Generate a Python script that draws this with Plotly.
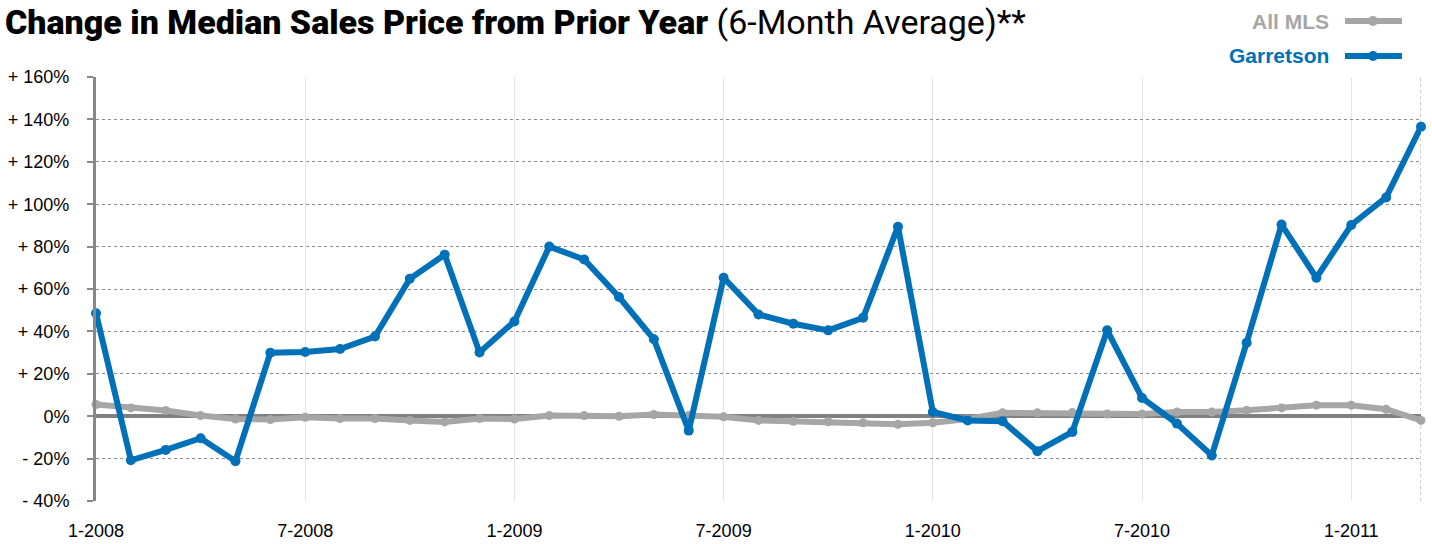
import plotly.graph_objects as go

months = [
    "1-2008", "2-2008", "3-2008", "4-2008", "5-2008", "6-2008", "7-2008", "8-2008", "9-2008", "10-2008", "11-2008", "12-2008",
    "1-2009", "2-2009", "3-2009", "4-2009", "5-2009", "6-2009", "7-2009", "8-2009", "9-2009", "10-2009", "11-2009", "12-2009",
    "1-2010", "2-2010", "3-2010", "4-2010", "5-2010", "6-2010", "7-2010", "8-2010", "9-2010", "10-2010", "11-2010", "12-2010",
    "1-2011", "2-2011", "3-2011",
]

all_mls = [
    5.5, 3.9, 2.7, 0.3, -1.3, -1.6, -0.5, -1.1, -1.1, -2.0, -2.7, -1.1,
    -1.3, 0.3, 0.3, 0.0, 0.8, 0.3, -0.3, -2.0, -2.4, -2.6, -3.1, -3.8,
    -3.1, -1.3, 1.6, 1.6, 1.7, 1.0, 1.0, 2.0, 2.0, 2.8, 3.9, 5.2,
    5.2, 3.3, -2.0,
]

garretson = [
    48.6, -20.8, -15.9, -10.4, -21.2, 29.9, 30.3, 31.7, 37.6, 64.8, 76.2, 30.1,
    44.7, 80.0, 73.9, 56.2, 36.3, -6.8, 65.3, 48.0, 43.6, 40.5, 46.4, 89.4,
    2.0, -2.0, -2.4, -16.5, -7.4, 40.5, 8.6, -3.5, -18.5, 34.7, 90.4, 65.3,
    90.2, 103.2, 136.5,
]

x_tick_labels = ["1-2008", "7-2008", "1-2009", "7-2009", "1-2010", "7-2010", "1-2011"]
y_tick_vals = [-40, -20, 0, 20, 40, 60, 80, 100, 120, 140, 160]
y_tick_text = ["- 40%", "- 20%", "0%", "+ 20%", "+ 40%", "+ 60%", "+ 80%", "+ 100%", "+ 120%", "+ 140%", "+ 160%"]

GRAY = "#a6a6a6"
BLUE = "#0070b8"

W, H = 1432, 544
L, R, T, B = 96, 11, 77, 43

fig = go.Figure()
fig.add_trace(go.Scatter(
    x=months, y=all_mls, mode="lines+markers", name="All MLS",
    line=dict(color=GRAY, width=6), marker=dict(color=GRAY, size=9),
    cliponaxis=False, showlegend=False,
))
fig.add_trace(go.Scatter(
    x=months, y=garretson, mode="lines+markers", name="Garretson",
    line=dict(color=BLUE, width=6), marker=dict(color=BLUE, size=10),
    cliponaxis=False, showlegend=False,
))

def px_x(p):
    return (p - L) / (W - L - R)

def px_y(p):
    return (H - B - p) / (H - T - B)

shapes = [
    dict(type="line", xref="x", yref="y", x0=len(months) - 1, x1=len(months) - 1, y0=-40, y1=160,
         line=dict(color="#999999", width=1, dash="dot"), layer="below"),
]
annotations = []
for label, color, ypx in [("All MLS", GRAY, 21), ("Garretson", BLUE, 56)]:
    shapes.append(dict(type="line", xref="paper", yref="paper", x0=px_x(1345), x1=px_x(1402),
                       y0=px_y(ypx), y1=px_y(ypx), line=dict(color=color, width=6)))
    shapes.append(dict(type="circle", xref="paper", yref="paper",
                       x0=px_x(1368), x1=px_x(1378), y0=px_y(ypx + 5), y1=px_y(ypx - 5),
                       fillcolor=color, line=dict(color=color, width=0)))
    annotations.append(dict(text="<b>%s</b>" % label, xref="paper", yref="paper", x=px_x(1331), y=px_y(ypx),
                            xanchor="right", yanchor="middle", showarrow=False,
                            font=dict(family="Liberation Sans, Arial, sans-serif", size=21, color=color)))

fig.update_layout(
    width=W, height=H,
    margin=dict(l=L, r=R, t=T, b=B, autoexpand=False),
    paper_bgcolor="white", plot_bgcolor="white",
    title=dict(
        text="<span style='font-weight:900'>Change in Median Sales Price from Prior Year</span> (6-Month Average)**",
        x=5 / W, xanchor="left", xref="container",
        y=1 - 22 / H, yanchor="middle", yref="container",
        font=dict(family="Roboto, Liberation Sans, sans-serif", size=34, color="black"),
    ),
    xaxis=dict(
        type="category", range=[0, len(months) - 1], automargin=False,
        tickmode="array", tickvals=x_tick_labels, ticktext=x_tick_labels,
        showgrid=True, gridcolor="#e4e4e4", gridwidth=1,
        showline=False, zeroline=False, ticks="",
        tickfont=dict(family="Liberation Sans, Arial, sans-serif", size=18, color="black"),
        ticklabelstandoff=17,
    ),
    yaxis=dict(
        range=[-40, 160], tickmode="array", tickvals=y_tick_vals, ticktext=y_tick_text, automargin=False,
        showgrid=True, gridcolor="#8c8c8c", gridwidth=1, griddash="dot",
        zeroline=True, zerolinecolor="#808080", zerolinewidth=4,
        showline=True, linecolor="#888888", linewidth=3,
        ticks="outside", ticklen=6, tickwidth=2, tickcolor="#888888",
        tickfont=dict(family="Liberation Sans, Arial, sans-serif", size=18, color="black"),
        ticklabelstandoff=14,
    ),
    shapes=shapes,
    annotations=annotations,
)

fig.write_html("out.html", config={"displayModeBar": False},
               post_script="document.body.style.margin='0px';")
